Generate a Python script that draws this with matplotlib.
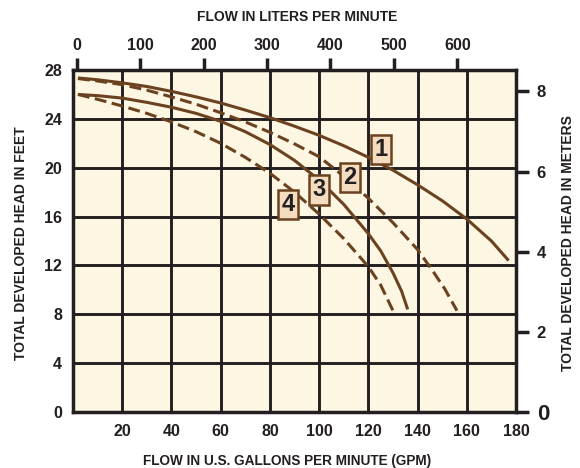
import matplotlib
matplotlib.use("Agg")
import matplotlib.pyplot as plt

# ---- data ----
gpm_1 = [2, 10, 20, 30, 40, 50, 60, 70, 80, 90, 100, 110, 120, 130, 140, 150, 160, 170, 177]
ft_1 = [27.35, 27.2, 26.95, 26.65, 26.25, 25.8, 25.3, 24.72, 24.1, 23.4, 22.65,
        21.8, 20.85, 19.8, 18.6, 17.3, 15.8, 14.0, 12.4]

gpm_2 = [2, 10, 20, 30, 40, 50, 60, 70, 80, 90, 100, 110, 120, 130, 140, 146, 151, 156]
ft_2 = [27.3, 27.1, 26.8, 26.35, 25.8, 25.2, 24.5, 23.75, 22.9, 21.95, 20.9,
        19.3, 17.5, 15.5, 13.3, 11.6, 10.1, 8.3]

gpm_3 = [2, 10, 20, 30, 40, 50, 60, 70, 80, 90, 100, 110, 120, 125, 130, 133.5, 136]
ft_3 = [26.0, 25.9, 25.7, 25.35, 24.95, 24.45, 23.8, 22.95, 21.9, 20.6, 19.0,
        17.0, 14.6, 13.2, 11.4, 9.9, 8.4]

gpm_4 = [2, 10, 20, 30, 40, 50, 60, 70, 80, 90, 100, 110, 120, 125, 130]
ft_4 = [26.0, 25.6, 25.05, 24.45, 23.75, 22.95, 22.0, 20.85, 19.55, 18.0, 16.2,
        14.2, 11.9, 10.4, 8.3]

curve_labels = ["1", "2", "3", "4"]
label_gpm = [125.2, 112.6, 100.0, 87.4]
label_ft = [21.5, 19.2, 18.2, 17.0]

gpm_ticks = [20, 40, 60, 80, 100, 120, 140, 160, 180]
ft_ticks = [0, 4, 8, 12, 16, 20, 24, 28]
lpm_ticks = [0, 100, 200, 300, 400, 500, 600]
m_ticks = [0, 2, 4, 6, 8]

FT_PER_M = 3.2808
# ---------------------------------------

BROWN = "#6b4220"
INK = "#231f20"
BG = "#fdf6e3"
FONT = ["Liberation Sans", "DejaVu Sans"]
NARROW = ["Liberation Sans Narrow", "Liberation Sans", "DejaVu Sans"]

plt.rcParams["font.family"] = FONT
plt.rcParams["font.weight"] = "bold"

W, H = 580, 468
fig = plt.figure(figsize=(W / 100, H / 100), dpi=100)
L, R, T, B = 73, 516, 70, 412
ax = fig.add_axes([L / W, 1 - B / H, (R - L) / W, (B - T) / H])
ax.set_facecolor(BG)
ax.set_xlim(0, 180)
ax.set_ylim(0, 28)

# grid
ax.set_xticks(gpm_ticks)
ax.set_yticks(ft_ticks)
ax.grid(True, color=INK, linewidth=2.1, zorder=1)
ax.set_axisbelow(True)
for s in ax.spines.values():
    s.set_color(INK)
    s.set_linewidth(2.5)

ax.tick_params(axis="both", length=0, colors=INK)
ax.tick_params(axis="x", pad=9, labelsize=11.5)
ax.tick_params(axis="y", pad=8, labelsize=11.5)
ax.set_xticklabels([str(v) for v in gpm_ticks], fontweight="bold")
ax.set_yticklabels([str(v) for v in ft_ticks], fontweight="bold")

lw = 2.2
dash = (0, (3.9, 1.8))
ax.plot(gpm_1, ft_1, color=BROWN, lw=lw, solid_capstyle="butt", zorder=3)
ax.plot(gpm_2, ft_2, color=BROWN, lw=lw, linestyle=dash,
        dash_capstyle="butt", zorder=3)
ax.plot(gpm_3, ft_3, color=BROWN, lw=lw, solid_capstyle="butt", zorder=3)
ax.plot(gpm_4, ft_4, color=BROWN, lw=lw, linestyle=dash,
        dash_capstyle="butt", zorder=3)

for lab, gx, gy in zip(curve_labels, label_gpm, label_ft):
    ax.text(gx, gy, lab, ha="center", va="center", fontsize=17,
            family=NARROW, fontweight="bold", color=INK, zorder=5,
            bbox=dict(boxstyle="square,pad=0.14", fc="#f3dcc0",
                      ec=BROWN, lw=1.8))

# top axis: liters per minute
axt = ax.twiny()
axt.set_xlim(-5.7, 692.3)
axt.set_xticks(lpm_ticks)
axt.set_xticklabels([str(v) for v in lpm_ticks], fontweight="bold")
axt.tick_params(axis="x", length=9, width=2.5, color=INK, pad=3,
                labelsize=11.5, colors=INK)
for s in axt.spines.values():
    s.set_visible(False)

# right axis: meters
axr = ax.twinx()
axr.set_ylim(0, 28 / FT_PER_M)
axr.set_yticks(m_ticks)
axr.set_yticklabels([str(v) for v in m_ticks], fontweight="bold")
axr.tick_params(axis="y", length=9, width=2.5, color=INK, pad=6,
                labelsize=12, colors=INK)
for s in axr.spines.values():
    s.set_visible(False)
axr.get_yticklabels()[0].set_fontsize(16)

# axis titles
fig.text(297 / W, 1 - 17 / H, "FLOW IN LITERS PER MINUTE", ha="center",
         va="center", fontsize=10, fontweight="bold", color=INK)
fig.text(287 / W, 1 - 461 / H, "FLOW IN U.S. GALLONS PER MINUTE (GPM)",
         ha="center", va="center", fontsize=9.8, fontweight="bold", color=INK)
fig.text(21 / W, 1 - 243 / H, "TOTAL DEVELOPED HEAD IN FEET", ha="center",
         va="center", rotation=90, fontsize=10, fontweight="bold", color=INK)
fig.text(568 / W, 1 - 243 / H, "TOTAL DEVELOPED HEAD IN METERS", ha="center",
         va="center", rotation=90, fontsize=10, fontweight="bold", color=INK)

fig.savefig("out.png", dpi=100, facecolor="white")
